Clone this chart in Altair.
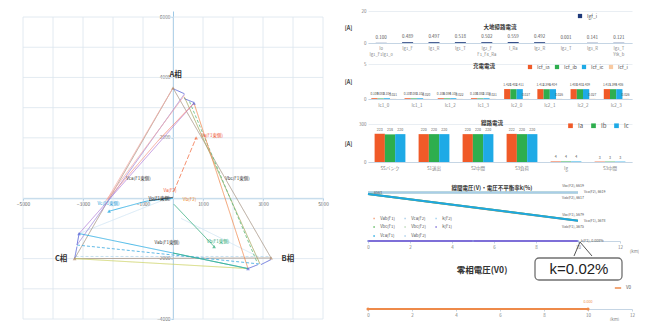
import altair as alt
import pandas as pd

FONT = "Noto Sans CJK JP"
TXT = "#7f7f7f"

# ======================= Phasor diagram (left) =======================
seg_series = ["faint", "faint", "dashf",
              "outer", "outer", "outer",
              "vtx", "vtx", "vtx", "vtx", "vtx", "vtx",
              "olive", "dashg", "ab", "cb", "dashb",
              "bc", "bcg", "ca", "purple", "pink", "pink", "salmon", "pink2",
              "va", "vc", "vc", "vb", "dark"]
seg_x1 = [-3130, 270, -3250,
          0, 3270, -3280,
          20, 370, 2930, 2500, -3280, -3200,
          380, 550, 700, -3280, -3200,
          -3130, 0, -3130, -3200, 0, 380, 700, -500,
          30, 0, -900, 30, -800]
seg_y1 = [-1170, -670, -1930,
          3650, -1980, -2000,
          3620, 3300, -2200, -2330, -2000, -1550,
          3350, 3200, 3150, -2000, -1550,
          -1170, -1815, -1170, -1550, 3650, 3400, 3150, 1900,
          230, 0, -100, -200, -80]
seg_x2 = [-300, 2830, 3200,
          3270, -3280, 0,
          380, 700, 3270, 2830, -3200, -3130,
          2900, 2800, 2500, 2500, 2900,
          2500, 2500, 700, 380, -2200, -2250, -500, -2170,
          770, -900, -2130, 1370, 0]
seg_y2 = [-50, -1930, -1930,
          -1980, -2000, 3650,
          3460, 3170, -2030, -2200, -1600, -1170,
          -2180, -2120, -2330, -2330, -2180,
          -2330, -2330, 3150, 3450, -50, -100, 1900, -30,
          2000, -100, -430, -1600, 30]

pt_series = ["vtxA", "vtxA", "vtxA", "vtx1", "vtx1", "vtx1", "vc_end", "vb_end", "va_end"]
pt_x = [0, 3270, -3280, 700, 2500, -3130, -2130, 1370, 770]
pt_y = [3650, -1980, -2000, 3150, -2330, -1170, -430, -1600, 2000]

phase_text = ["A相", "B相", "C相"]
phase_x = [90, 3830, -3730]
phase_y = [4070, -2000, -2000]

lab_text = ["Vca(F1東側)", "Vbc(F1東側)", "Vab(F1東側)", "Va(F1東側)", "Vb(F1東側)",
            "Vc(F1東側)", "Va(F2)", "Vo(F1東側)", "Vb(F2)"]
lab_x = [-1150, 2150, -200, 1300, 1500, -2150, -100, -450, 550]
lab_y = [620, 620, -1480, 2070, -1450, -190, 240, -40, -60]
lab_kind = ["lbl_black", "lbl_black", "lbl_black", "lbl_red", "lbl_green",
            "lbl_blue", "lbl_red", "lbl_dark", "lbl_orange"]

grid_x = list(range(-5000, 5001, 1000))
grid_y = list(range(-4000, 6001, 1000))

# styles (kept apart from the data)
phasor_color = {
    "faint": "#cfe5f4", "dashf": "#b9d9ee", "outer": "#a39282", "vtx": "#4b5bd4",
    "olive": "#a3a35a", "dashg": "#5dbb7d", "ab": "#f08a50", "cb": "#c9cf5a",
    "dashb": "#3aa8e0", "bc": "#1ea7e1", "bcg": "#37b27a", "ca": "#b27fd8",
    "purple": "#9b84d8", "pink": "#f5a9a3", "salmon": "#f27c6a", "pink2": "#f3968a",
    "va": "#f3744a", "vc": "#1ea7e1", "vb": "#2aa876", "dark": "#333333",
    "vtxA": "#b38a6a", "vtx1": "#5a6ad8", "vc_end": "#1ea7e1", "vb_end": "#2aa876",
    "va_end": "#f3744a",
    "lbl_black": "#3a3a3a", "lbl_red": "#f05a3a", "lbl_green": "#2aa876",
    "lbl_blue": "#1e9ad6", "lbl_dark": "#222222", "lbl_orange": "#f08a30",
}
seg_width = {"faint": 0.8, "dashf": 0.8, "outer": 1.3, "vtx": 1.8, "olive": 1.0,
             "dashg": 0.9, "ab": 1.8, "cb": 1.0, "dashb": 1.2, "bc": 2.4, "bcg": 2.0,
             "ca": 1.4, "purple": 1.0, "pink": 1.0, "salmon": 2.8, "pink2": 1.6,
             "va": 2.6, "vc": 2.2, "vb": 1.6, "dark": 2.4}
seg_dash = {k: [1, 0] for k in seg_width}
seg_dash.update({"dashf": [3, 2], "dashg": [3, 2], "dashb": [3, 2], "va": [5, 2]})

pc_dom = list(phasor_color.keys())
pc_rng = list(phasor_color.values())
sw_dom = list(seg_width.keys())

df_seg = pd.DataFrame({"s": seg_series, "x1": seg_x1, "y1": seg_y1, "x2": seg_x2, "y2": seg_y2})
df_pt = pd.DataFrame({"s": pt_series, "x": pt_x, "y": pt_y})
df_ph = pd.DataFrame({"t": phase_text, "x": phase_x, "y": phase_y})
df_lab = pd.DataFrame({"t": lab_text, "x": lab_x, "y": lab_y, "s": lab_kind})
df_gx = pd.DataFrame({"g": grid_x, "lo": grid_y[0], "hi": grid_y[-1]})
df_gy = pd.DataFrame({"g": grid_y, "lo": grid_x[0], "hi": grid_x[-1]})

YTOP = 6200
PW, PH = 300, 308
xs = alt.Scale(domain=[grid_x[0], grid_x[-1]], nice=False)
ys = alt.Scale(domain=[grid_y[0], YTOP], nice=False)
zero_from_bottom = PH * (0 - grid_y[0]) / (YTOP - grid_y[0])
ax_common = dict(title=None, grid=False, domainColor="#9cc8e6", tickColor="#9cc8e6", tickSize=2,
                 labelFontSize=4.8, labelColor="#666666", format="d", labelFlush=False,
                 labelOverlap=False, labelExpr="datum.value == 0 ? '' : datum.label")
x_ax = alt.Axis(values=grid_x, offset=-zero_from_bottom, labelPadding=1, **ax_common)
y_ax = alt.Axis(values=grid_y, offset=-(PW / 2), labelPadding=1, **ax_common)
colS = alt.Color("s:N", scale=alt.Scale(domain=pc_dom, range=pc_rng), legend=None)

gx = alt.Chart(df_gx).mark_rule(color="#dbe5ee", strokeWidth=0.8).encode(
    x=alt.X("g:Q", scale=xs, axis=x_ax), y=alt.Y("lo:Q", scale=ys, axis=y_ax), y2="hi:Q")
gy = alt.Chart(df_gy).mark_rule(color="#dbe5ee", strokeWidth=0.8).encode(
    y="g:Q", x="lo:Q", x2="hi:Q")
segs = alt.Chart(df_seg).mark_rule().encode(
    x="x1:Q", y="y1:Q", x2="x2:Q", y2="y2:Q", color=colS,
    size=alt.Size("s:N", scale=alt.Scale(domain=sw_dom, range=[seg_width[k] for k in sw_dom]), legend=None),
    strokeDash=alt.StrokeDash("s:N", scale=alt.Scale(domain=sw_dom, range=[seg_dash[k] for k in sw_dom]), legend=None),
)
pts = alt.Chart(df_pt).mark_point(filled=True, size=14, shape="triangle-up").encode(
    x="x:Q", y="y:Q", color=colS)
ph_txt = alt.Chart(df_ph).mark_text(fontSize=7.5, fontWeight="bold", color="#333333", font=FONT).encode(
    x="x:Q", y="y:Q", text="t:N")
lab_txt = alt.Chart(df_lab).mark_text(fontSize=4.5, font=FONT).encode(
    x="x:Q", y="y:Q", text="t:N", color=colS)

left = alt.layer(gx, gy, segs, pts, ph_txt, lab_txt).properties(width=PW, height=PH)

# ======================= Right panels =======================
RW = 264


def yax(values, title, titleY, ext=30, **kw):
    return alt.Axis(values=values, title=title, titleAngle=0, titleX=-20, titleY=titleY,
                    titleAlign="center", titleBaseline="middle", titleFontSize=5.5,
                    titleFontWeight="bold", titleColor="#444444", labelFontSize=4.5,
                    labelColor=TXT, labelPadding=2, domain=False, ticks=False, grid=True,
                    gridColor="#e9eef3", minExtent=ext, **kw)


def xax_band(ext, fs=4.5, **kw):
    return alt.Axis(title=None, labelAngle=0, labelFontSize=fs, labelColor=TXT, ticks=False,
                    domainColor="#c5d5e4", labelPadding=3, minExtent=ext, **kw)


# ---- panel 1: 大地帰路電流 ----
cat1 = ["Io|Ig1_F1Ig1_0", "Ig1_F", "Ig1_R", "Ig1_T", "Ig2_F|F1_F4_Ra", "I_Ra",
        "Ig2_R", "Ig2_T", "Ig3_R", "Ig3_T|Ytk_b"]
val1 = [0.100, 0.489, 0.497, 0.518, 0.502, 0.559, 0.492, 0.001, 0.141, 0.121]
ser1 = ["Igf_i"]
df1 = pd.DataFrame({"cat": cat1, "value": val1, "s": ser1 * len(cat1)})
b1 = alt.Chart(df1).encode(
    x=alt.X("cat:N", sort=cat1, axis=xax_band(18, fs=4.2, labelExpr="split(datum.label, '|')")))
bars1 = b1.mark_bar(size=11).encode(
    y=alt.Y("value:Q", scale=alt.Scale(domain=[0, 20]), axis=yax([0, 5, 10, 15, 20], "[A]", 16)),
    color=alt.Color("s:N", scale=alt.Scale(domain=ser1, range=["#1f3a7a"]),
                    legend=alt.Legend(title=None, orient="none", legendX=209, legendY=2,
                                      symbolType="square", symbolSize=18, labelFontSize=5,
                                      labelColor="#555555", padding=0)))
txt1 = b1.mark_text(dy=-5, fontSize=4.5, color="#555555").encode(
    y="value:Q", text=alt.Text("value:Q", format=".3f"))
p1 = alt.layer(bars1, txt1).properties(
    width=RW, height=32,
    title=alt.TitleParams("大地帰路電流", fontSize=5.5, fontWeight="bold", color="#333333",
                          anchor="middle", offset=-22))

# ---- panel 2: 充電電流 ----
cat2 = ["Ic1_0", "Ic1_1", "Ic1_2", "Ic1_3", "Ic2_0", "Ic2_1", "Ic2_2", "Ic2_3"]
ser2 = ["Icf_ia", "Icf_ib", "Icf_ic", "Icf_i"]
icf_ia = [0.109, 0.107, 0.106, 0.108, 1.420, 1.412, 1.408, 1.415]
icf_ib = [0.083, 0.081, 0.084, 0.082, 1.402, 1.396, 1.401, 1.399]
icf_ic = [0.104, 0.102, 0.105, 0.103, 1.411, 1.404, 1.409, 1.406]
icf_i = [0.021, 0.020, 0.022, 0.021, 0.027, 0.026, 0.027, 0.026]
rows2 = []
for s, vals in zip(ser2, [icf_ia, icf_ib, icf_ic, icf_i]):
    for c, v in zip(cat2, vals):
        rows2.append({"cat": c, "s": s, "value": v})
df2 = pd.DataFrame(rows2)
b2 = alt.Chart(df2).encode(
    x=alt.X("cat:N", sort=cat2, scale=alt.Scale(paddingInner=0.25, paddingOuter=0.1), axis=xax_band(21)),
    xOffset=alt.XOffset("s:N", sort=ser2))
bars2 = b2.mark_bar().encode(
    y=alt.Y("value:Q", scale=alt.Scale(domain=[0, 5]), axis=yax([0, 1, 2, 3, 4, 5], "[A]", 17)),
    color=alt.Color("s:N", scale=alt.Scale(domain=ser2, range=["#f05a28", "#2eae4e", "#1eaae6", "#f8c9a0"]),
                    legend=alt.Legend(title=None, orient="none", legendX=159, legendY=0, direction="horizontal",
                                      symbolType="square", symbolSize=18, labelFontSize=5, columnPadding=4,
                                      labelColor="#555555", padding=0)))
txt2 = b2.mark_text(dy=-4, fontSize=3.2, color="#555555").encode(
    y="value:Q", text=alt.Text("value:Q", format=".3f"))
p2 = alt.layer(bars2, txt2).properties(
    width=RW, height=35,
    title=alt.TitleParams("充電電流", fontSize=5.5, fontWeight="bold", color="#333333",
                          anchor="middle", offset=-8, dx=-16))

# ---- panel 3: 線路電流 ----
cat3 = ["SSバンク", "S1送出", "S2中間", "S3負荷", "Ig", "S3中間"]
ser3 = ["Ia", "Ib", "Ic"]
ia3 = [223, 220, 220, 222, 4, 3]
ib3 = [218, 220, 220, 220, 4, 3]
ic3 = [220, 220, 220, 220, 4, 3]
rows3 = []
for s, vals in zip(ser3, [ia3, ib3, ic3]):
    for c, v in zip(cat3, vals):
        rows3.append({"cat": c, "s": s, "value": v})
df3 = pd.DataFrame(rows3)
b3 = alt.Chart(df3).encode(
    x=alt.X("cat:N", sort=cat3, scale=alt.Scale(paddingInner=0.3, paddingOuter=0.15), axis=xax_band(19)),
    xOffset=alt.XOffset("s:N", sort=ser3))
bars3 = b3.mark_bar().encode(
    y=alt.Y("value:Q", scale=alt.Scale(domain=[0, 300]), axis=yax([0, 100, 200, 300], "[A]", 19)),
    color=alt.Color("s:N", scale=alt.Scale(domain=ser3, range=["#f05a28", "#2eae4e", "#1eaae6"]),
                    legend=alt.Legend(title=None, orient="none", legendX=199, legendY=-2, direction="horizontal",
                                      symbolType="square", symbolSize=22, labelFontSize=6, columnPadding=6,
                                      labelColor="#555555", padding=0)))
txt3 = b3.mark_text(dy=-4, fontSize=3.6, color="#555555").encode(
    y="value:Q", text=alt.Text("value:Q", format="d"))
p3 = alt.layer(bars3, txt3).properties(
    width=RW, height=38,
    title=alt.TitleParams("線路電流", fontSize=5.5, fontWeight="bold", color="#333333",
                          anchor="middle", offset=-5, dx=-8))

# ---- panel 4: 線間電圧(V)・電圧不平衡率k(%) ----
v_names = ["Vca(F2)", "Vbc(F2)", "Vab(F2)", "Vab(F1)", "Vbc(F1)", "Vca(F1)"]
v_km = [0, 10]
v_vals = {"Vca(F2)": [6619, 6619], "Vbc(F2)": [6619, 6619], "Vab(F2)": [6617, 6617],
          "Vab(F1)": [6563, 5675], "Vbc(F1)": [6565, 5679], "Vca(F1)": [6564, 5678]}
k_names = ["k(F2)", "k(F1)"]
k_km = [0, 5, 10]
k_vals = {"k(F2)": [0.02, 0.02, 0.02], "k(F1)": [0.008, 0.008, 0.008]}

leg4 = ["Vab(F1)", "Vbc(F1)", "Vca(F1)", "Vca(F2)", "Vbc(F2)", "Vab(F2)", "k(F2)", "k(F1)"]
col4 = ["#f4a07a", "#5cb85c", "#1ea7e1", "#a9cde9", "#bcd9b8", "#a9cde9", "#9fd0ef", "#7e6fd8"]
wid4 = [2.0, 2.0, 2.2, 0.8, 0.8, 0.8, 1.0, 2.0]
label_pos = {"Vbc(F2)": "up", "Vca(F2)": "right", "Vab(F2)": "down",
             "Vbc(F1)": "up", "Vca(F1)": "right", "Vab(F1)": "down"}

df4 = pd.DataFrame([{"n": n, "km": k, "v": v} for n in v_names for k, v in zip(v_km, v_vals[n])])
df4k = pd.DataFrame([{"n": n, "km": k, "v": v} for n in k_names for k, v in zip(k_km, k_vals[n])])
df4e = pd.DataFrame([{"n": n, "km": v_km[-1], "v": v_vals[n][-1],
                      "t": f"{n}, {v_vals[n][-1]}", "pos": label_pos[n]} for n in v_names])
df4s = pd.DataFrame([{"km": v_km[0], "v": v_vals["Vab(F1)"][0], "t": str(v_vals["Vab(F1)"][0])}])
df4ke = pd.DataFrame([{"km": k_km[-1], "v": k_vals["k(F1)"][-1], "t": "k(F1), 0.008%"}])

W4 = 252
x4 = alt.X("km:Q", scale=alt.Scale(domain=[0, 12], nice=False),
           axis=alt.Axis(values=[0, 2, 4, 6, 8, 10, 12], title="(km)", titleX=266, titleY=7,
                         titleFontSize=4.5, titleFontWeight="normal", titleColor=TXT,
                         labelFontSize=4.5, labelColor=TXT, tickSize=2, tickColor="#c5d5e4",
                         domainColor="#c5d5e4", labelPadding=1, grid=False, minExtent=15,
                         labelFlush=False))
c4 = alt.Color("n:N", scale=alt.Scale(domain=leg4, range=col4),
               legend=alt.Legend(title=None, orient="none", legendX=4, legendY=35, columns=3,
                                 symbolType="stroke", symbolStrokeWidth=1.5, symbolSize=60,
                                 labelFontSize=4.2, labelColor="#555555", columnPadding=6,
                                 rowPadding=2, padding=0, labelLimit=60))
s4 = alt.Size("n:N", scale=alt.Scale(domain=leg4, range=wid4), legend=None)
ysV = alt.Scale(domain=[5000, 7000], nice=False)
vlines = alt.Chart(df4).mark_line().encode(
    x=x4, y=alt.Y("v:Q", scale=ysV,
                  axis=alt.Axis(values=[5000, 5500, 6000, 6500, 7000], title="[V]", titleAngle=0,
                                titleX=-24, titleY=30, titleAlign="center", titleBaseline="middle",
                                titleFontSize=5.5, titleFontWeight="bold", titleColor="#444444",
                                labelFontSize=4.5, labelColor=TXT, labelPadding=2, domain=True,
                                domainColor="#c5d5e4", ticks=False, grid=False, minExtent=30,
                                orient="left")),
    color=c4, size=s4, detail="n:N")
e4 = alt.Chart(df4e).encode(x="km:Q", y=alt.Y("v:Q", scale=ysV, axis=None), text="t:N")
t_up = e4.transform_filter(alt.datum.pos == "up").mark_text(dx=-5, dy=-6, fontSize=3.5, color="#555555")
t_rt = e4.transform_filter(alt.datum.pos == "right").mark_text(dx=6, dy=0, align="left", fontSize=3.5, color="#555555")
t_dn = e4.transform_filter(alt.datum.pos == "down").mark_text(dx=-5, dy=6, fontSize=3.5, color="#555555")
t_st = alt.Chart(df4s).mark_text(dx=10, dy=-1, fontSize=3.5, color="#555555").encode(
    x="km:Q", y=alt.Y("v:Q", scale=ysV, axis=None), text="t:N")
ptr = alt.Chart(df4s).mark_rule(color="#555555", strokeWidth=1).encode(
    x=alt.value(206), y=alt.value(75), x2=alt.value(212), y2=alt.value(61))
ptr2 = alt.Chart(df4s).mark_rule(color="#555555", strokeWidth=1).encode(
    x=alt.value(224), y=alt.value(75), x2=alt.value(212), y2=alt.value(61))
leftV = alt.layer(vlines, t_up, t_rt, t_dn, t_st, ptr, ptr2)

ysK = alt.Scale(domain=[0, 20], nice=False)
klines = alt.Chart(df4k).mark_line(point=alt.OverlayMarkDef(size=8, filled=True)).encode(
    x="km:Q", y=alt.Y("v:Q", scale=ysK,
                      axis=alt.Axis(values=[0, 5, 10, 15, 20], title="%", titleAngle=0, titleX=14,
                                    titleY=30, titleFontSize=5, titleColor="#444444",
                                    titleFontWeight="normal", labelFontSize=4.5, labelColor=TXT,
                                    labelPadding=2, domain=True, domainColor="#c5d5e4",
                                    ticks=False, grid=False, orient="right")),
    color=c4, size=s4, detail="n:N")
kt = alt.Chart(df4ke).mark_text(dx=3, dy=0, align="left", fontSize=3.6, color="#555555").encode(
    x="km:Q", y=alt.Y("v:Q", scale=ysK, axis=None), text="t:N")
rightK = alt.layer(klines, kt)

p4 = alt.layer(leftV, rightK).resolve_scale(y="independent").properties(
    width=W4, height=60,
    title=alt.TitleParams("線間電圧(V)・電圧不平衡率k(%)", fontSize=5.5, fontWeight="bold",
                          color="#333333", anchor="middle", offset=-10, dx=-2))

# ---- panel 5: 零相電圧(V0) ----
v0_km = [0, 10]
v0_val = [0.0, 0.0]
ser5 = ["V0"]
df5 = pd.DataFrame({"km": v0_km, "v": v0_val, "n": ser5 * len(v0_km)})
df5e = pd.DataFrame({"km": [v0_km[-1]], "v": [v0_val[-1]], "t": [f"{v0_val[-1]:.3f}"]})
callout_text = ["k=0.02%"]
df5c = pd.DataFrame({"t": callout_text})
x5 = alt.X("km:Q", scale=alt.Scale(domain=[0, 12], nice=False),
           axis=alt.Axis(values=[0, 2, 4, 6, 8, 10, 12], title="(km)", titleX=246, titleY=7,
                         titleFontSize=4.5, titleFontWeight="normal", titleColor=TXT,
                         labelFontSize=4.5, labelColor=TXT, tickSize=2, tickColor="#c5d5e4",
                         domainColor="#c5d5e4", labelPadding=1, grid=False, labelFlush=False))
ys5 = alt.Scale(domain=[0, 4000], nice=False)
l5 = alt.Chart(df5).mark_line(strokeWidth=2.2, point=alt.OverlayMarkDef(size=10, filled=True)).encode(
    x=x5, y=alt.Y("v:Q", scale=ys5,
                  axis=alt.Axis(values=[0, 1000, 2000, 3000, 4000], title="[V]", titleAngle=0, titleX=-24,
                                titleY=24, titleAlign="center", titleBaseline="middle", titleFontSize=5.5,
                                titleFontWeight="bold", titleColor="#444444", labelFontSize=4.5,
                                labelColor=TXT, labelPadding=2, domain=True, domainColor="#c5d5e4",
                                ticks=False, grid=False, minExtent=30)),
    color=alt.Color("n:N", scale=alt.Scale(domain=ser5, range=["#ee8a4a"]),
                    legend=alt.Legend(title=None, orient="none", legendX=246, legendY=20,
                                      symbolType="stroke", symbolStrokeWidth=1.5, symbolSize=40,
                                      labelFontSize=4.5, labelColor="#555555", padding=0)))
t5 = alt.Chart(df5e).mark_text(dy=-7, fontSize=3.6, color="#ee8a4a").encode(
    x="km:Q", y=alt.Y("v:Q", scale=ys5, axis=None), text="t:N")
box = alt.Chart(df5c).mark_rect(fill="white", stroke="#707070", strokeWidth=1.3, cornerRadius=4).encode(
    x=alt.value(167), x2=alt.value(254), y=alt.value(-6), y2=alt.value(16))
boxt = alt.Chart(df5c).mark_text(fontSize=15, font="Liberation Sans", color="#222222").encode(
    x=alt.value(211), y=alt.value(5), text="t:N")
p5 = alt.layer(l5, t5, box, boxt).properties(
    width=RW, height=45,
    title=alt.TitleParams("零相電圧(V0)", fontSize=8.5, fontWeight="bold", color="#333333",
                          anchor="middle", offset=-17, dx=-18))

right = alt.vconcat(p1, p2, p3, p4, p5, spacing=0).resolve_scale(
    color="independent", size="independent", x="independent", y="independent",
    xOffset="independent").resolve_legend(color="independent", size="independent")

chart = alt.hconcat(left, right, spacing=9).resolve_scale(
    color="independent", size="independent", x="independent", y="independent",
    strokeDash="independent").resolve_legend(color="independent", size="independent").properties(
    padding={"left": 16, "top": 8, "right": 0, "bottom": 0}
).configure_view(stroke=None).configure_axis(
    labelFont=FONT, titleFont=FONT
).configure_legend(labelFont=FONT).configure_title(font=FONT).configure_text(font=FONT)

chart.save("out.html", embed_options={"renderer": "svg", "actions": False})
